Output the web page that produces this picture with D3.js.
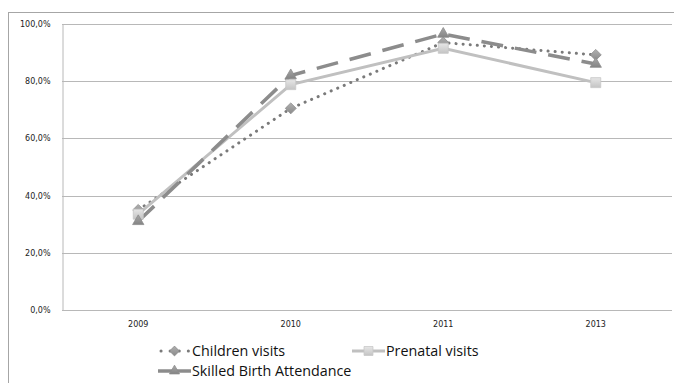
<!DOCTYPE html>
<html>
<head>
<meta charset="utf-8">
<script src="https://cdn.jsdelivr.net/npm/d3@7"></script>
<style>
  html, body { margin: 0; padding: 0; background: #fff; }
  svg { display: block; }
</style>
</head>
<body>
<svg id="chart" width="674" height="383"></svg>
<script>
// Service coverage by year
const years = ["2009", "2010", "2011", "2013"];
const childrenVisits = [0.35, 0.705, 0.935, 0.892];
const prenatalVisits = [0.335, 0.788, 0.915, 0.795];
const skilledBirthAttendance = [0.31, 0.82, 0.965, 0.86];
const yTicks = [0, 0.2, 0.4, 0.6, 0.8, 1.0];
const seriesNames = ["Children visits", "Prenatal visits", "Skilled Birth Attendance"];

const svg = d3.select("#chart");
const W = 674, H = 383;
const plot = { left: 62, right: 672, top: 24, bottom: 310 };

// outer frame
svg.append("rect")
  .attr("x", 8.5).attr("y", 12.5)
  .attr("width", W - 8).attr("height", H)
  .attr("fill", "#fff").attr("stroke", "#a6a6a6").attr("stroke-width", 1);

const x = d3.scaleBand().domain(years).range([plot.left, plot.right]);
const y = d3.scaleLinear().domain([0, 1]).range([plot.bottom, plot.top]);

const fmt = v => d3.format(".1f")(v * 100).replace(".", ",") + "%";

// gridlines
svg.append("g")
  .selectAll("line").data(yTicks.filter(d => d > 0)).join("line")
  .attr("x1", plot.left).attr("x2", plot.right)
  .attr("y1", d => Math.round(y(d)) + 0.5).attr("y2", d => Math.round(y(d)) + 0.5)
  .attr("stroke", "#b8b8b8").attr("stroke-width", 1);

// y axis
const yAxis = svg.append("g")
  .attr("transform", `translate(${plot.left + 0.5},0)`)
  .call(d3.axisLeft(y).tickValues(yTicks).tickFormat(fmt).tickSize(0).tickPadding(12));
yAxis.select(".domain").attr("stroke", "#b8b8b8");
yAxis.selectAll("text")
  .attr("font-family", "DejaVu Sans, Verdana, sans-serif")
  .attr("font-size", "8px").attr("fill", "#222");

// x axis
const xAxis = svg.append("g")
  .attr("transform", `translate(0,${Math.round(plot.bottom) + 0.5})`)
  .call(d3.axisBottom(x).tickSize(0).tickPadding(11));
xAxis.select(".domain").attr("stroke", "#b8b8b8").attr("d", `M${plot.left},0H${plot.right}`);
xAxis.selectAll("text")
  .attr("font-family", "DejaVu Sans, Verdana, sans-serif")
  .attr("font-size", "8px").attr("fill", "#222");

const defs = svg.append("defs");
function grad(id, c1, c2) {
  const g = defs.append("linearGradient").attr("id", id)
    .attr("x1", 0).attr("y1", 0).attr("x2", 0).attr("y2", 1);
  g.append("stop").attr("offset", "0%").attr("stop-color", c1);
  g.append("stop").attr("offset", "100%").attr("stop-color", c2);
}
grad("gDiamond", "#b0b0b0", "#8a8a8a");
grad("gSquare", "#e6e6e6", "#c4c4c4");
grad("gTri", "#a8a8a8", "#848484");

// square rotated 45 degrees: an even diamond
const wideDiamond = {
  draw(ctx, size) {
    const r = Math.sqrt(size / 2);
    ctx.moveTo(0, -r); ctx.lineTo(r, 0); ctx.lineTo(0, r); ctx.lineTo(-r, 0); ctx.closePath();
  }
};

const series = [
  { name: seriesNames[0], values: childrenVisits, color: "#7a7a7a", width: 3, dash: "0.1,7", cap: "round",
    symbol: wideDiamond, size: 60, fill: "url(#gDiamond)", stroke: "#8a8a8a" },
  { name: seriesNames[1], values: prenatalVisits, color: "#c0c0c0", width: 3, dash: null, cap: "butt",
    symbol: d3.symbolSquare, size: 100, fill: "url(#gSquare)", stroke: "#c8c8c8" },
  { name: seriesNames[2], values: skilledBirthAttendance, color: "#8c8c8c", width: 3.5, dash: "22,12", cap: "butt",
    symbol: d3.symbolTriangle, size: 55, fill: "url(#gTri)", stroke: "#8c8c8c" }
];

const line = d3.line()
  .x((d, i) => x(years[i]) + x.bandwidth() / 2)
  .y(d => y(d));

series.forEach(s => {
  svg.append("path")
    .attr("d", line(s.values))
    .attr("fill", "none")
    .attr("stroke", s.color)
    .attr("stroke-width", s.width)
    .attr("stroke-linecap", s.cap)
    .attr("stroke-dasharray", s.dash);
});

series.forEach(s => {
  svg.append("g").selectAll("path").data(s.values).join("path")
    .attr("transform", (d, i) => `translate(${x(years[i]) + x.bandwidth() / 2},${y(d)})`)
    .attr("d", d3.symbol().type(s.symbol).size(s.size))
    .attr("fill", s.fill)
    .attr("stroke", s.stroke)
    .attr("stroke-width", 0.8);
});

// legend
const legendPos = [
  { x: 158, y: 351 },
  { x: 352, y: 351 },
  { x: 158, y: 371 }
];
series.forEach((s, i) => {
  const p = legendPos[i];
  const g = svg.append("g").attr("transform", `translate(${p.x},${p.y})`);
  g.append("line")
    .attr("x1", i === 0 ? 3 : 0).attr("x2", 33).attr("y1", 0).attr("y2", 0)
    .attr("stroke", s.color).attr("stroke-width", s.width)
    .attr("stroke-linecap", s.cap)
    .attr("stroke-dasharray", i === 0 ? "0.1,9" : null);
  g.append("path")
    .attr("transform", "translate(16.5,0)")
    .attr("d", d3.symbol().type(s.symbol).size(s.size * 0.8))
    .attr("fill", s.fill).attr("stroke", s.stroke).attr("stroke-width", 0.8);
  g.append("text")
    .attr("x", 34).attr("y", 0).attr("dy", "0.35em")
    .attr("font-family", "Open Sans, Liberation Sans, Arial, sans-serif")
    .attr("font-size", "14.3px").attr("fill", "#111")
    .text(s.name);
});
</script>
</body>
</html>
